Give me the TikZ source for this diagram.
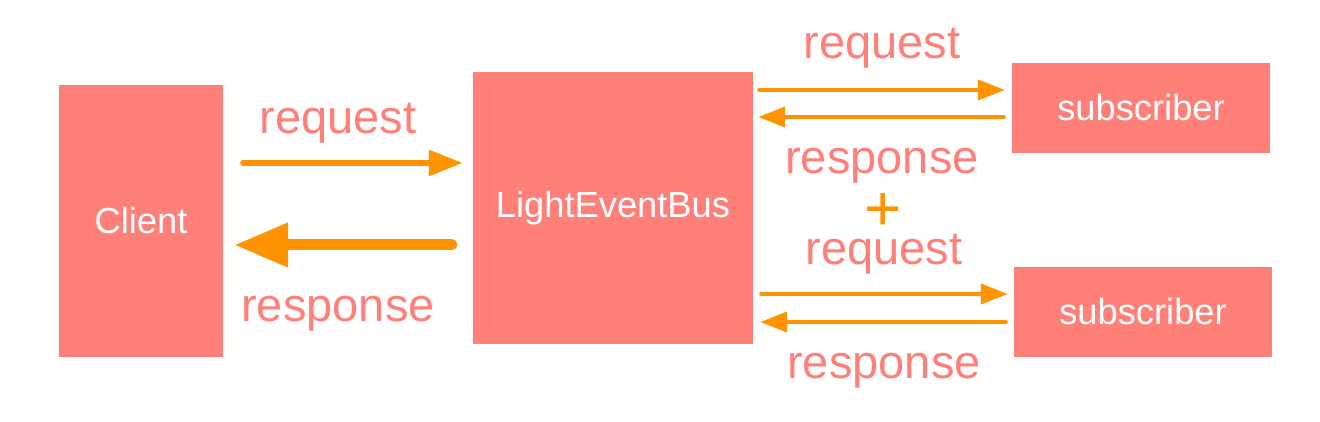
\documentclass[tikz,border=0pt]{standalone}
\usepackage{fontspec}
\setmainfont{Liberation Sans}
\usetikzlibrary{arrows.meta,calc}
\definecolor{salmon}{HTML}{FF7F79}
\definecolor{arrorange}{HTML}{FF9300}
\tikzset{
  box/.style={fill=salmon, inner sep=0pt, text=white, font=\fontsize{36.3}{40}\selectfont},
  lbl/.style={text=salmon, anchor=base, inner sep=0pt, font=\fontsize{47}{52}\selectfont},
  plus/.style={text=arrorange, anchor=base, inner sep=0pt, text depth=0pt, font=\fontsize{64}{68}\selectfont},
  thinarr/.style={draw=arrorange, line width=4pt, line cap=round, -{Triangle[length=27pt,width=20pt]}},
  midarr/.style={draw=arrorange, line width=6pt, line cap=round, -{Triangle[length=34pt,width=25pt]}},
  bigarr/.style={draw=arrorange, line width=11pt, line cap=round, -{Triangle[length=54pt,width=42pt]}}
}
\begin{document}
\begin{tikzpicture}[x=1pt,y=-1pt]
\useasboundingbox (0,0) rectangle (1320,422);
\node[box, minimum width=164pt, minimum height=272pt] (client) at (141,221) {Client};
\node[box, minimum width=280pt, minimum height=272pt] (bus) at (613,208) {LightEventBus};
\node[box, minimum width=258pt, minimum height=90pt] (sub1) at (1141,108) {subscriber};
\node[box, minimum width=258pt, minimum height=90pt] (sub2) at (1143,312) {subscriber};

\draw[midarr] ($(client.east)+(20,-58)$) -- ($(bus.west)+(-10,-45)$);
\draw[bigarr] ($(bus.west)+(-21,37)$) -- ($(client.east)+(11,24)$);

\draw[thinarr] ($(bus.east)+(6,-118)$) -- ($(sub1.west)+(-7,-18)$);
\draw[thinarr] ($(sub1.west)+(-8,9)$) -- ($(bus.east)+(5,-91)$);
\draw[thinarr] ($(bus.east)+(8,86)$) -- ($(sub2.west)+(-6,-18)$);
\draw[thinarr] ($(sub2.west)+(-8,10)$) -- ($(bus.east)+(7,114)$);

\node[lbl] (lreq) at (338,134) {request};
\node[lbl] (lresp) at (338,321) {response};
\node[lbl] (rreq1) at (882,59) {request};
\node[lbl] (rresp1) at (882,174) {response};
\node[plus] (pl) at (883,230) {+};
\node[lbl] (rreq2) at (884,264) {request};
\node[lbl] (rresp2) at (884,378) {response};
\end{tikzpicture}
\end{document}
